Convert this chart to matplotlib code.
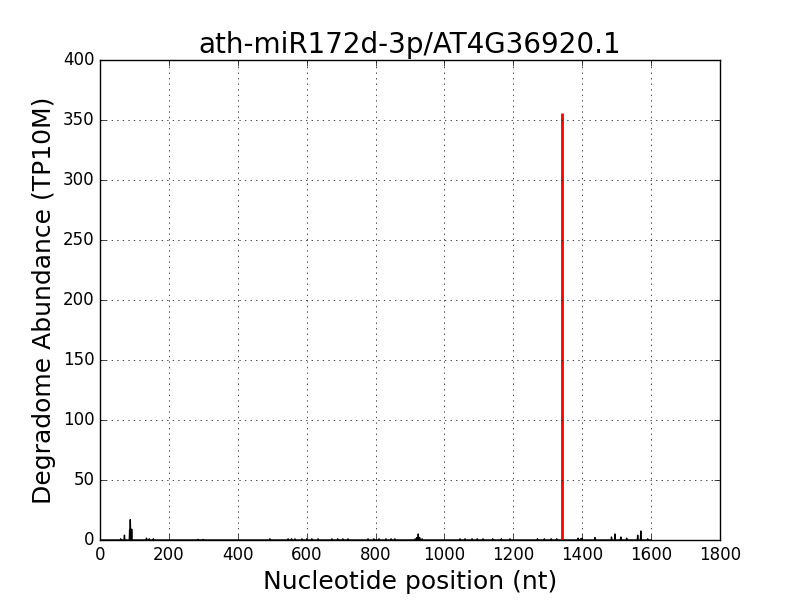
import matplotlib
matplotlib.use('Agg')
from matplotlib import pyplot as plt
import numpy as np

#transcript and cleavage site
title = "ath-miR172d-3p/AT4G36920.1"
transcript_length = 1600
site_position = 1340
site_abundance = 356

#degradome reads (position, TP10M)
positions = [60, 71, 86, 88, 92, 135, 143, 155, 285, 300,
             493, 546, 556, 566, 586, 600, 615, 633, 673, 690, 705, 720,
             778, 795, 810, 830, 845, 856, 915, 920, 924, 928, 935,
             1045, 1060, 1080, 1095, 1112, 1140, 1165, 1190,
             1270, 1290, 1310, 1326, 1388, 1395, 1400, 1437, 1485, 1495,
             1512, 1529, 1561, 1570, 1590]
abundance = [1, 4, 8, 17, 9, 1.5, 1, 1, 0.5, 0.5,
             1, 1, 1, 1, 1, 1, 1, 1, 1, 1, 1, 1,
             1, 1, 1, 1, 1, 1, 1, 2, 5, 2, 1,
             1, 1, 1, 1, 1, 1, 1, 1,
             1, 1, 1, 1, 1.5, 1, 1.5, 2, 2.5, 5,
             2.5, 1.5, 4, 7.5, 1]

plt.style.use('classic')

tp10m = np.zeros(transcript_length)
for p, v in zip(positions, abundance):
    tp10m[p] = v

fig = plt.figure(figsize=(8, 6), dpi=100)
ax = fig.add_subplot(111)
ax.plot(np.arange(transcript_length), tp10m, color='k', lw=1)
ax.vlines(site_position, 0, site_abundance, color='r', lw=2)

ax.set_xlim(0, 1800)
ax.set_ylim(0, 400)
ax.set_title(title, fontsize=20)
ax.set_xlabel("Nucleotide position (nt)", fontsize=18)
ax.set_ylabel("Degradome Abundance (TP10M)", fontsize=18)
ax.tick_params(labelsize=12)
ax.grid(True)

plt.savefig("out.png", dpi=100)
